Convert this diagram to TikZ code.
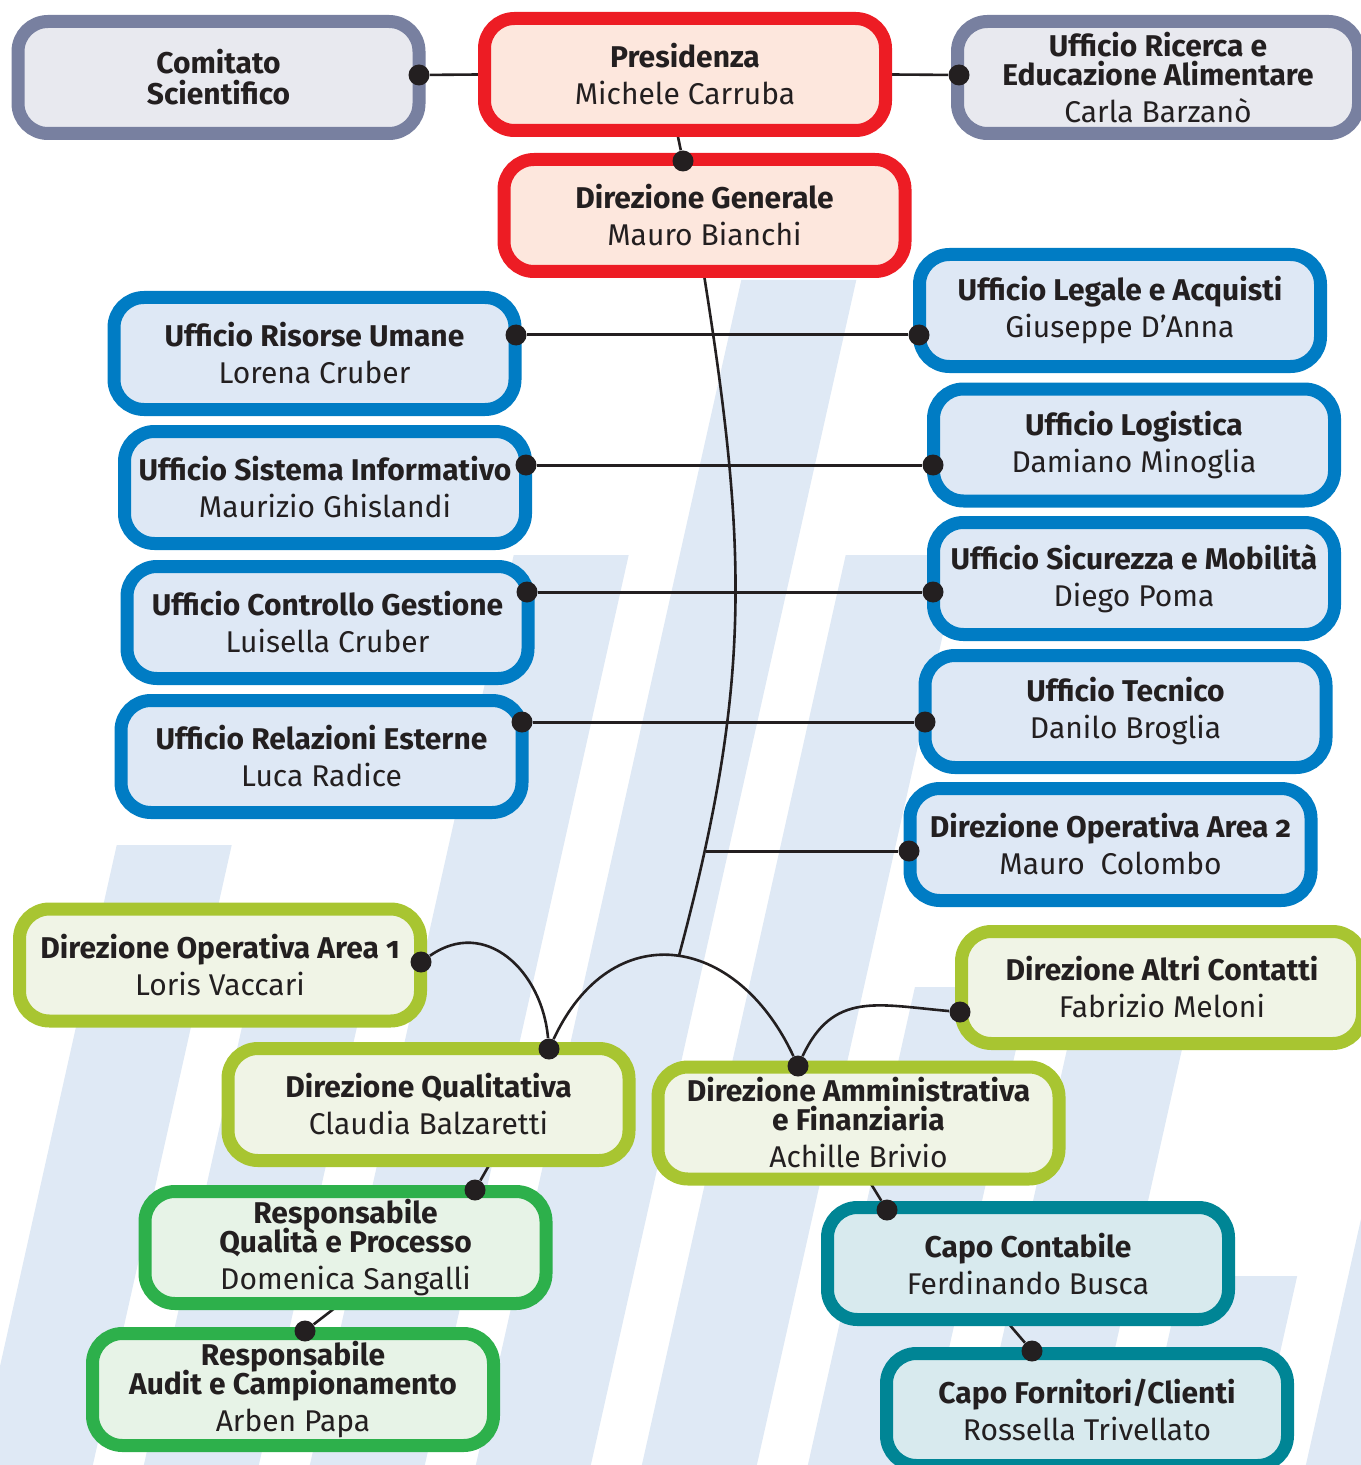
\documentclass[tikz,border=0pt]{standalone}
\usepackage{fontspec}
\setmainfont{Fira Sans}[Numbers=OldStyle]
\usetikzlibrary{backgrounds}
\definecolor{ink}{RGB}{35,31,32}
\definecolor{stripeblue}{RGB}{223,233,245}
\definecolor{greyline}{RGB}{120,128,160}
\definecolor{greyfill}{RGB}{232,233,239}
\definecolor{redline}{RGB}{237,28,36}
\definecolor{redfill}{RGB}{253,231,221}
\definecolor{blueline}{RGB}{0,124,196}
\definecolor{bluefill}{RGB}{222,232,245}
\definecolor{limeline}{RGB}{168,197,49}
\definecolor{limefill}{RGB}{240,244,230}
\definecolor{greenline}{RGB}{45,176,75}
\definecolor{greenfill}{RGB}{231,243,231}
\definecolor{tealline}{RGB}{0,133,149}
\definecolor{tealfill}{RGB}{216,234,238}

\begin{document}
\begin{tikzpicture}
[every node/.style={inner sep=0pt},
 box/.style={rounded corners=15pt, minimum width=200.5pt, minimum height=56pt, line width=6.5pt, align=center, text=ink, font=\fontsize{15pt}{18.5pt}\selectfont},
 greybox/.style={box, draw=greyline, fill=greyfill},
 redbox/.style={box, draw=redline, fill=redfill},
 bluebox/.style={box, draw=blueline, fill=bluefill},
 limebox/.style={box, draw=limeline, fill=limefill},
 greenbox/.style={box, draw=greenline, fill=greenfill},
 tealbox/.style={box, draw=tealline, fill=tealfill},
 dot/.style={circle, minimum size=10.5pt, fill=ink},
 link/.style={line width=1.3pt, color=ink},
 hline/.style={line width=1.5pt, color=ink}]
\useasboundingbox (0pt, 0pt) rectangle (680pt, -732.5pt);
\node (1) [greybox] at (109.25pt, -38.75pt) {\textbf{Comitato}\\[-3pt]\textbf{Scientifico}};
\node (2) [redbox] at (342.5pt, -37.25pt) {\textbf{Presidenza}\\Michele Carruba};
\node (3) [greybox] at (579.0pt, -38.75pt) {\textbf{Ufficio Ricerca e}\\[-4pt]\textbf{Educazione Alimentare}\\Carla Barzanò};
\node (4) [redbox] at (352.25pt, -107.75pt) {\textbf{Direzione Generale}\\Mauro Bianchi};
\node (5) [bluebox] at (157.25pt, -176.75pt) {\textbf{Ufficio Risorse Umane}\\Lorena Cruber};
\node (6) [bluebox] at (560.0pt, -155.25pt) {\textbf{Ufficio Legale e Acquisti}\\Giuseppe D’Anna};
\node (7) [bluebox] at (162.5pt, -243.75pt) {\textbf{Ufficio Sistema Informativo}\\Maurizio Ghislandi};
\node (8) [bluebox] at (567.0pt, -222.5pt) {\textbf{Ufficio Logistica}\\Damiano Minoglia};
\node (9) [bluebox] at (163.75pt, -311.25pt) {\textbf{Ufficio Controllo Gestione}\\Luisella Cruber};
\node (10) [bluebox] at (567.0pt, -289.25pt) {\textbf{Ufficio Sicurezza e Mobilità}\\Diego Poma};
\node (11) [bluebox] at (160.75pt, -378.25pt) {\textbf{Ufficio Relazioni Esterne}\\Luca Radice};
\node (12) [bluebox] at (562.75pt, -355.75pt) {\textbf{Ufficio Tecnico}\\Danilo Broglia};
\node (13) [bluebox] at (555.25pt, -422.25pt) {\textbf{Direzione Operativa Area 2}\\Mauro~~Colombo};
\node (14) [limebox] at (110.0pt, -482.5pt) {\textbf{Direzione Operativa Area 1}\\Loris Vaccari};
\node (15) [limebox] at (214.25pt, -552.25pt) {\textbf{Direzione Qualitativa}\\Claudia Balzaretti};
\node (16) [limebox] at (429.25pt, -561.5pt) {\textbf{Direzione Amministrativa}\\[-4pt]\textbf{e Finanziaria}\\Achille Brivio};
\node (17) [limebox] at (581.0pt, -493.75pt) {\textbf{Direzione Altri Contatti}\\Fabrizio Meloni};
\node (18) [greenbox] at (172.75pt, -623.75pt) {\textbf{Responsabile}\\[-4pt]\textbf{Qualità e Processo}\\Domenica Sangalli};
\node (19) [greenbox] at (146.5pt, -694.75pt) {\textbf{Responsabile}\\[-4pt]\textbf{Audit e Campionamento}\\Arben Papa};
\node (20) [tealbox] at (514.0pt, -631.75pt) {\textbf{Capo Contabile}\\Ferdinando Busca};
\node (21) [tealbox] at (543.5pt, -704.75pt) {\textbf{Capo Fornitori/Clienti}\\Rossella Trivellato};
\node (d1) [dot] at (209.5pt, -37.5pt) {};
\node (d3) [dot] at (479.5pt, -37.5pt) {};
\node (d4) [dot] at (341.5pt, -80.5pt) {};
\node (d5) [dot] at (258.0pt, -167.5pt) {};
\node (d6) [dot] at (459.5pt, -167.5pt) {};
\node (d7) [dot] at (263.0pt, -232.5pt) {};
\node (d8) [dot] at (466.5pt, -232.5pt) {};
\node (d9) [dot] at (263.5pt, -296.0pt) {};
\node (d10) [dot] at (466.5pt, -296.0pt) {};
\node (d11) [dot] at (261.0pt, -361.0pt) {};
\node (d12) [dot] at (462.5pt, -361.0pt) {};
\node (d13) [dot] at (454.5pt, -425.5pt) {};
\node (d14) [dot] at (210.5pt, -481.0pt) {};
\node (d15) [dot] at (274.5pt, -524.5pt) {};
\node (d16) [dot] at (399.0pt, -533.0pt) {};
\node (d17) [dot] at (480.0pt, -506.0pt) {};
\node (d18) [dot] at (237.5pt, -595.0pt) {};
\node (d19) [dot] at (152.5pt, -665.5pt) {};
\node (d20) [dot] at (443.5pt, -605.0pt) {};
\node (d21) [dot] at (516.0pt, -675.5pt) {};
\coordinate (p1) at (338.5pt, -66.0pt);
\coordinate (q1) at (246.0pt, -580.0pt);
\coordinate (r1) at (170.0pt, -652.0pt);
\coordinate (c1) at (434.0pt, -589.5pt);
\coordinate (c2) at (502.5pt, -659.75pt);
\begin{scope}[on background layer]
\foreach \xb/\yt in {-12.75/-422.5, 70.25/-475, 153.25/-277.5, 236.25/-140, 319.25/-277.5, 402.25/-493.5, 485.25/-480, 568.25/-638, 651.25/-550}
{
\pgfmathsetmacro{\xt}{\xb+0.224*(\yt+740)}
\pgfmathsetmacro{\xtr}{\xt+57.5}
\pgfmathsetmacro{\xbr}{\xb+57.5}
\fill [stripeblue] (\xb pt, -740pt) -- (\xt pt, \yt pt) -- (\xtr pt, \yt pt) -- (\xbr pt, -740pt) -- cycle;
}
\draw [link] (d1) -- (2.west);
\draw [link] (2.east) -- (d3);
\draw [link] (d4) -- (p1);
\draw [hline] (d5) -- (d6);
\draw [hline] (d7) -- (d8);
\draw [hline] (d9) -- (d10);
\draw [hline] (d11) -- (d12);
\draw [link] (d14) to [out=35, in=95, looseness=1.2] (d15);
\draw [link] (d15) to [out=65, in=115, looseness=1.45] coordinate [pos=0.52] (j1) (d16);
\draw [link] (d16) to [out=65, in=175, looseness=1.2] (d17);
\draw [link] (4.south) to [out=-81, in=75, looseness=1.05] coordinate [pos=0.85] (j2) (j1);
\draw [hline] (d13) -- (d13 -| j2);
\draw [link] (d18) -- (q1);
\draw [link] (d19) -- (r1);
\draw [link] (d20) -- (c1);
\draw [link] (d21) -- (c2);
\end{scope}
\end{tikzpicture}
\end{document}
